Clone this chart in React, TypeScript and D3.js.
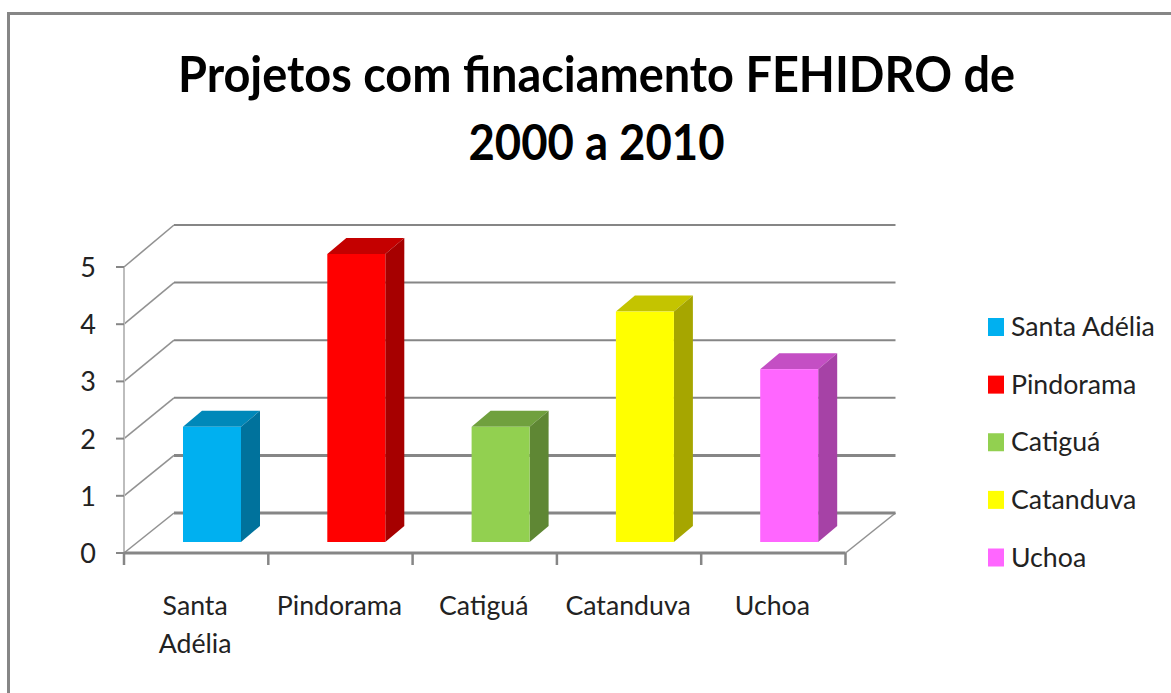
import React from "react";
import * as d3 from "d3";

const categories = ["Santa Adélia", "Pindorama", "Catiguá", "Catanduva", "Uchoa"];
const values = [2, 5, 2, 4, 3];
const colors = ["#00b0f0", "#ff0000", "#92d050", "#ffff00", "#ff66ff"];
const yTicks = [0, 1, 2, 3, 4, 5];
const titleLines = ["Projetos com finaciamento FEHIDRO de", "2000 a 2010"];
const titleWidths = [837, 256];

const width = 1171;
const height = 693;
const font = "Lato, Carlito, sans-serif";
const grey = "#868686";

// the 3D box: front floor edge, and how far the back wall is pushed away
const depthX = 50;
const depthY = -40;
const barDepthX = 19;
const barDepthY = -16;

const xScale = d3.scaleBand<string>().domain(categories).range([124, 845.5]);
const yFront = d3.scaleLinear().domain([0, 5]).range([553, 267]);
const yBack = d3.scaleLinear().domain([0, 5]).range([513, 225]);
const yBar = d3.scaleLinear().domain([0, 5]).range([542, 254]);
const legendY = d3.scalePoint<string>().domain(categories).range([327, 557.5]);

const barOffset = 59;
const barWidth = 58;

// darker faces of the bars
function shade(hex: string, k: number) {
  const c = d3.rgb(hex);
  return d3.rgb(c.r * k, c.g * k, c.b * k).formatHex();
}

export default function App() {
  const wall = d3.line();
  const right = 845.5;

  return (
    <svg
      width={width}
      height={height}
      style={{ position: "absolute", left: 0, top: 0, background: "#fff" }}
    >
      <path
        d={`M8.5,${height + 2}V13.5H${width + 2}`}
        fill="none"
        stroke={grey}
        strokeWidth={3}
      />

      <g fontFamily={font} fontWeight={700} fontSize={50} textAnchor="middle" fill="#000">
        {titleLines.map((t, i) => (
          <text
            key={t}
            x={596.5}
            y={92 + i * 68}
            textLength={titleWidths[i]}
            lengthAdjust="spacingAndGlyphs"
          >
            {t}
          </text>
        ))}
      </g>

      {/* side wall, drawn a bit lighter and thinner than the back wall */}
      <g fill="none" stroke={grey} strokeWidth={1.6} strokeOpacity={0.9}>
        {yTicks.map((t) => (
          <path
            key={t}
            d={
              wall([
                [124, yFront(t)],
                [124 + depthX, yBack(t)],
              ]) as string
            }
          />
        ))}
        <path
          d={
            wall([
              [right, yFront(0)],
              [right + depthX, yBack(0)],
            ]) as string
          }
        />
      </g>

      {/* back wall */}
      <g stroke={grey}>
        {yTicks.map((t) => (
          <line
            key={t}
            x1={124 + depthX}
            x2={right + depthX}
            y1={yBack(t)}
            y2={yBack(t)}
            strokeWidth={t < 2 ? 3 : 2}
          />
        ))}
      </g>

      {/* axes */}
      <g stroke={grey}>
        <line x1={124} x2={124} y1={yFront(5)} y2={yFront(0)} strokeWidth={2} stroke="#bdbdbd" />
        <line x1={124} x2={right} y1={yFront(0)} y2={yFront(0)} strokeWidth={3} />
        {yTicks.map((t) => (
          <line key={t} x1={116} x2={124} y1={yFront(t)} y2={yFront(t)} strokeWidth={2} />
        ))}
        {[...categories.map((c) => xScale(c) as number), right].map((x) => (
          <line key={x} x1={x} x2={x} y1={yFront(0)} y2={565} strokeWidth={2.5} />
        ))}
      </g>

      <g fontFamily={font} fontSize={27} fill="#222" textAnchor="end">
        {yTicks.map((t) => (
          <text key={t} x={96} y={yFront(t) + 10}>
            {t}
          </text>
        ))}
      </g>

      {/* bars */}
      {categories.map((c, i) => {
        const x0 = (xScale(c) as number) + barOffset;
        const x1 = x0 + barWidth;
        const top = yBar(values[i]);
        const base = yBar(0);
        return (
          <g key={c}>
            <polygon
              points={`${x0},${top} ${x0 + barDepthX},${top + barDepthY} ${x1 + barDepthX},${top + barDepthY} ${x1},${top}`}
              fill={shade(colors[i], 0.77)}
            />
            <polygon
              points={`${x1},${top} ${x1 + barDepthX},${top + barDepthY} ${x1 + barDepthX},${base + barDepthY} ${x1},${base}`}
              fill={shade(colors[i], 0.65)}
            />
            <rect x={x0} y={top} width={barWidth} height={base - top} fill={colors[i]} />
          </g>
        );
      })}

      {/* category labels */}
      <g fontFamily={font} fontSize={26.7} fill="#222" textAnchor="middle">
        {categories.map((c) => {
          const cx = (xScale(c) as number) + xScale.bandwidth() / 2 - 1;
          const words = c === "Santa Adélia" ? c.split(" ") : [c];
          return words.map((w, k) => (
            <text key={w} x={cx} y={615 + k * 38}>
              {w}
            </text>
          ));
        })}
      </g>

      {/* legend */}
      <g fontFamily={font} fontSize={26.7} fill="#222">
        {categories.map((c, i) => {
          const y = legendY(c) as number;
          return (
            <g key={c}>
              <rect x={988} y={y - 9} width={16} height={18} fill={colors[i]} />
              <text x={1011} y={y + 9}>
                {c}
              </text>
            </g>
          );
        })}
      </g>
    </svg>
  );
}
